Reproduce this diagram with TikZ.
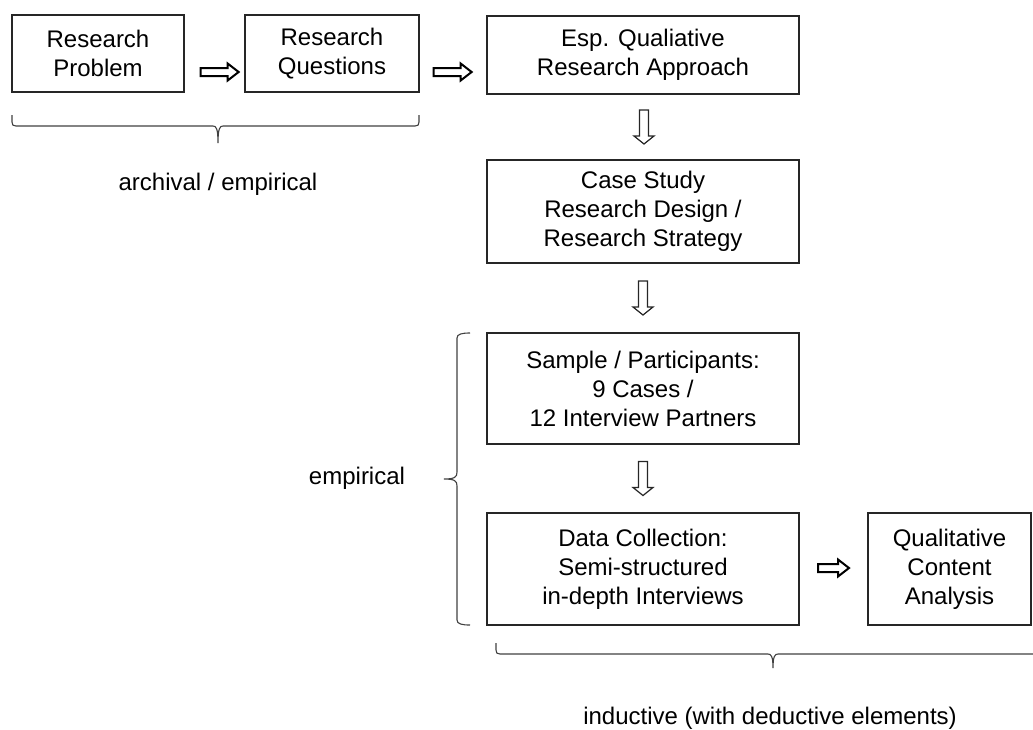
\documentclass[tikz,border=0pt]{standalone}
\usepackage{fontspec}
\setmainfont{Liberation Sans}
\usetikzlibrary{calc}

\tikzset{
  stage/.style={draw=black!85, line width=1.3pt, rectangle, inner sep=0pt,
    align=center, font=\fontsize{24}{29}\selectfont},
  caption/.style={inner sep=0pt, font=\fontsize{24}{29}\selectfont},
  bracepath/.style={draw=black!75, line width=1.1pt},
  blockh/.style={draw=black, line width=2pt, fill=white},
  blockv/.style={draw=black!85, line width=1.2pt, fill=white},
}

% outlined block arrow pointing right: #1 centre, #2 half length
\newcommand\RightBlock[2]{%
  \begin{scope}[shift={#1}]
    \draw[blockh] (-#2,-4) -- (#2-11,-4) -- (#2-11,-8.5) -- (#2,0)
      -- (#2-11,8.5) -- (#2-11,4) -- (-#2,4) -- cycle;
  \end{scope}}

% outlined block arrow pointing down: #1 centre, #2 half length
\newcommand\DownBlock[2]{%
  \begin{scope}[shift={#1}]
    \draw[blockv] (-4.5,-#2) -- (-4.5,#2-8) -- (-10,#2-8) -- (0,#2)
      -- (10,#2-8) -- (4.5,#2-8) -- (4.5,-#2) -- cycle;
  \end{scope}}

\begin{document}
\begin{tikzpicture}[x=1pt, y=-1pt]
  \useasboundingbox (0,0) rectangle (1033,729);

  % process stages
  \node[stage, minimum width=172pt, minimum height=77pt] (prob) at (98,53.5)
    {Research\\Problem};
  \node[stage, minimum width=174pt, minimum height=77pt] (quest) at (332,53.5)
    {Research\\Questions};
  \node[stage, minimum width=312pt, minimum height=78pt] (appr) at (643,55)
    {Esp. Qualiative\\Research Approach};
  \node[stage, minimum width=312pt, minimum height=103pt] (design) at (643,211.5)
    {Case Study\\Research Design /\\Research Strategy};
  \node[stage, minimum width=312pt, minimum height=111pt] (sample) at (643,388.5)
    {Sample / Participants:\\9 Cases /\\12 Interview Partners};
  \node[stage, minimum width=312pt, minimum height=112pt] (collect) at (643,569)
    {Data Collection:\\Semi-structured\\in-depth Interviews};
  \node[stage, minimum width=163pt, minimum height=112pt] (analysis) at (949.5,569)
    {Qualitative\\Content\\Analysis};

  % horizontal block arrows
  \RightBlock{($(prob.east)+(35,18.5)$)}{19}
  \RightBlock{($(quest.east)+(33,18.5)$)}{19}
  \RightBlock{($(collect.east)!0.5!(analysis.west)+(0,-1)$)}{15.5}

  % vertical block arrows
  \DownBlock{($(appr.south)!0.5!(design.north)+(1,0)$)}{17}
  \DownBlock{($(design.south)!0.5!(sample.north)$)}{17}
  \DownBlock{($(sample.south)!0.5!(collect.north)$)}{17}

  % brace under the first two stages
  \draw[bracepath] (12,115) -- (12,122) .. controls (12,125) and (13,126) .. (16,126)
    -- (213,126) .. controls (216,126) and (218,128) .. (218,143)
    .. controls (218,128) and (220,126) .. (223,126)
    -- (415,126) .. controls (418,126) and (419,125) .. (419,122) -- (419,115);
  \node[caption, anchor=base] (arch) at (218,190) {archival / empirical};

  % brace left of the empirical stages
  \draw[bracepath] (470,333) .. controls (462,333) and (457,334) .. (457,338)
    -- (457,472) .. controls (457,477) and (455,479) .. (444,479)
    .. controls (455,479) and (457,481) .. (457,486)
    -- (457,620) .. controls (457,624) and (462,625) .. (470,625);
  \node[caption, anchor=base] (emp) at (357,484) {empirical};

  % brace under the last two stages
  \draw[bracepath] (496,643) -- (496,650) .. controls (496,653) and (497,654) .. (500,654)
    -- (768,654) .. controls (771,654) and (773,656) .. (773,668)
    .. controls (773,656) and (775,654) .. (778,654) -- (1033,654);
  \node[caption, anchor=base] (ind) at (770,724) {inductive (with deductive elements)};
\end{tikzpicture}
\end{document}
